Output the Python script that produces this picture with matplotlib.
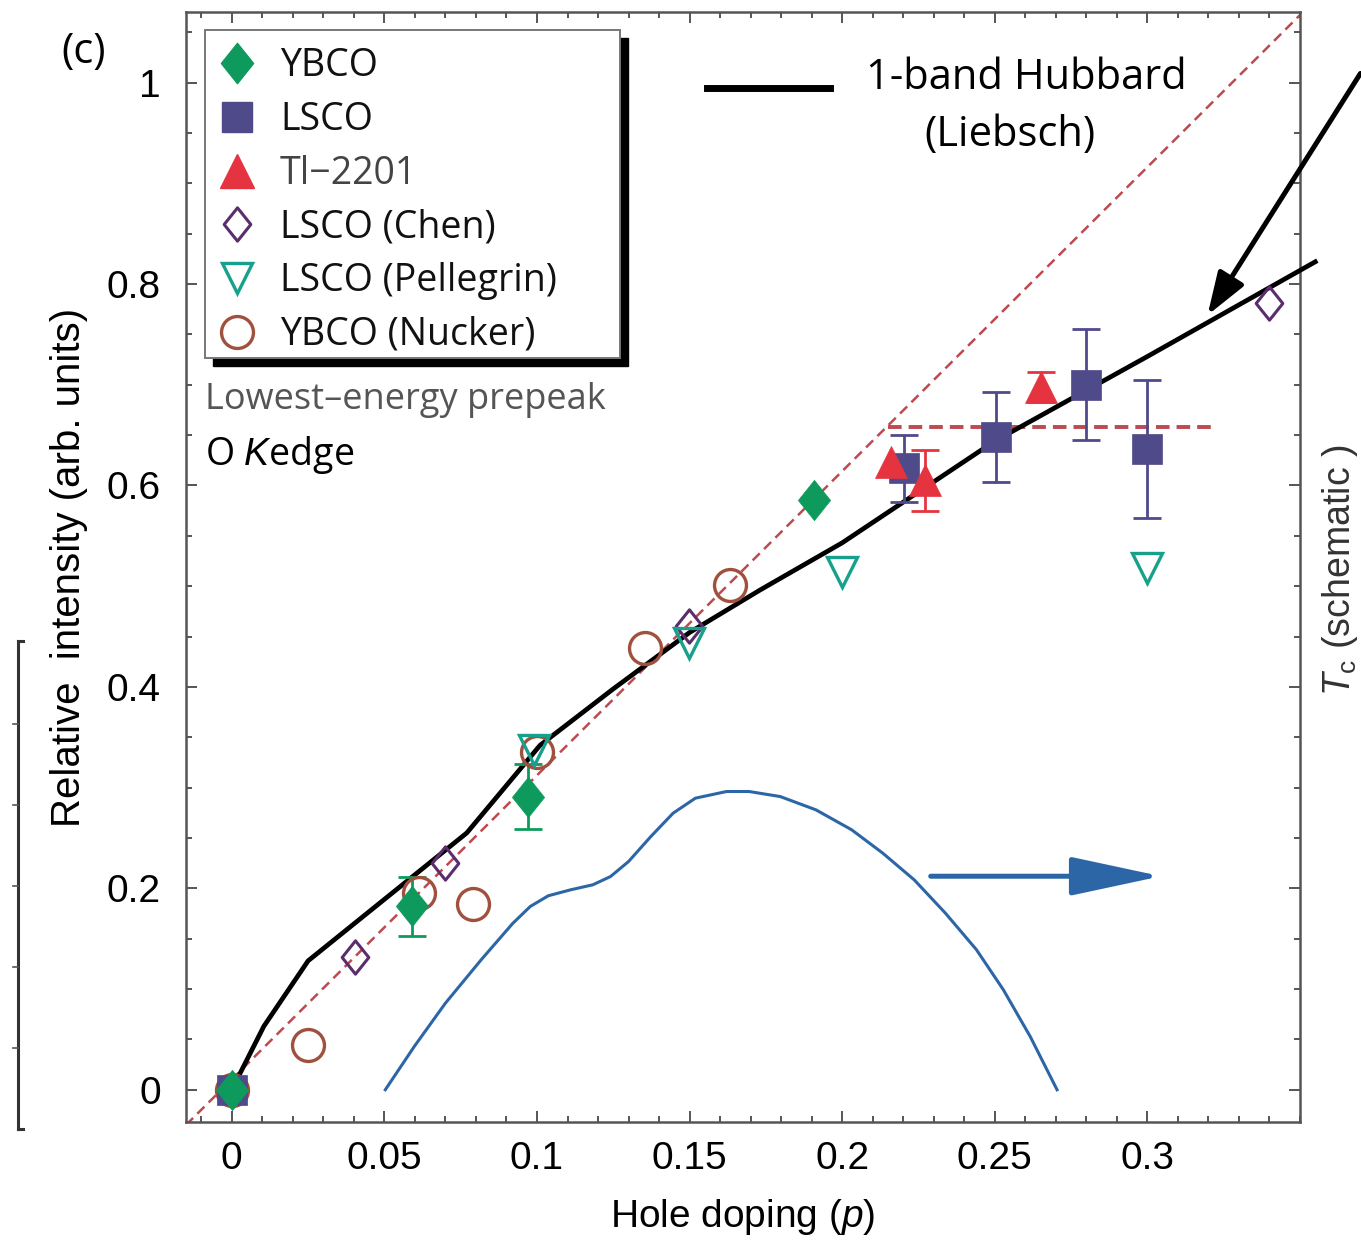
import matplotlib
matplotlib.use('Agg')
import matplotlib.pyplot as plt
import numpy as np
from matplotlib.lines import Line2D
from matplotlib.patches import Rectangle
from matplotlib.path import Path
from matplotlib.ticker import MultipleLocator

plt.rcParams['font.family'] = ['Liberation Sans', 'DejaVu Sans']
plt.rcParams['mathtext.fontset'] = 'custom'
plt.rcParams['mathtext.rm'] = 'Liberation Sans'
plt.rcParams['mathtext.it'] = 'Liberation Sans:italic'

# ---------------- data ----------------
ybco_p = [0.0, 0.059, 0.097, 0.1906]
ybco_v = [0.0, 0.182, 0.291, 0.586]
ybco_err = [0.0, 0.029, 0.032, 0.0]

lsco_p = [0.0, 0.2204, 0.2503, 0.28, 0.30]
lsco_v = [0.0, 0.617, 0.648, 0.700, 0.636]
lsco_err = [0.0, 0.033, 0.045, 0.055, 0.0685]

tl_p = [0.216, 0.227, 0.265]
tl_v = [0.623, 0.605, 0.698]
tl_err = [0.0, 0.030, 0.015]

chen_p = [0.0, 0.0403, 0.070, 0.1497, 0.34]
chen_v = [0.0, 0.132, 0.225, 0.460, 0.781]

pell_p = [0.099, 0.1497, 0.1998, 0.30]
pell_v = [0.337, 0.444, 0.514, 0.518]

nuck_p = [0.0, 0.0251, 0.0613, 0.0789, 0.1, 0.1353, 0.1634]
nuck_v = [0.0, 0.0447, 0.1955, 0.1846, 0.335, 0.4387, 0.501]

hub_p = [0.0, 0.0105, 0.025, 0.077, 0.101, 0.125, 0.15, 0.173, 0.2, 0.25, 0.3, 0.355]
hub_v = [0.0, 0.063, 0.128, 0.255, 0.342, 0.398, 0.454, 0.496, 0.543, 0.644, 0.728, 0.822]

diag_p = [-0.015, 0.35]
diag_v = [-0.035, 1.067]
flat_p = [0.2149, 0.3208]
flat_v = [0.6584, 0.6584]

tc_p = [0.0503, 0.0598, 0.0700, 0.0817, 0.0920, 0.0978, 0.1037, 0.1110, 0.1183, 0.1241,
        0.1300, 0.1373, 0.1446, 0.1519, 0.1621, 0.1695, 0.1797, 0.1914, 0.2031, 0.2133,
        0.2236, 0.2338, 0.2440, 0.2528, 0.2616, 0.2704]
tc_v = [0.0, 0.043, 0.086, 0.129, 0.165, 0.182, 0.1926, 0.1985, 0.2035, 0.2117,
        0.2266, 0.2514, 0.2746, 0.2895, 0.2961, 0.2961, 0.2911, 0.2779, 0.2581, 0.2349,
        0.2084, 0.1754, 0.139, 0.0993, 0.0529, 0.0]

xticks = [0, 0.05, 0.1, 0.15, 0.2, 0.25, 0.3]
xticklabels = ['0', '0.05', '0.1', '0.15', '0.2', '0.25', '0.3']
yticks = [0, 0.2, 0.4, 0.6, 0.8, 1.0]
yticklabels = ['0', '0.2', '0.4', '0.6', '0.8', '1']

# ---------------- colours ----------------
c_ybco = '#0e9a5c'
c_lsco = '#4f4a8a'
c_tl = '#e5343f'
c_chen = '#5a2d6c'
c_pell = '#17a08b'
c_nuck = '#a0503c'
c_red = '#bd4a50'
c_blue = '#2c66a6'

W, H = 1361, 1253
fig = plt.figure(figsize=(W / 100, H / 100), dpi=100)
ax = fig.add_axes([186 / W, 1 - 1122 / H, (1300 - 186) / W, (1122 - 12) / H])
ax.set_xlim(-0.015, 0.35)
ax.set_ylim(-0.032, 1.07)

diam = Path([(0, 1), (0.8, 0), (0, -1), (-0.8, 0), (0, 1)],
            [Path.MOVETO, Path.LINETO, Path.LINETO, Path.LINETO, Path.CLOSEPOLY])

# lines
ax.plot(diag_p, diag_v, color=c_red, lw=1.8, dashes=(4, 2.4), zorder=2)
ax.plot(flat_p, flat_v, color=c_red, lw=2.8, dashes=(3.5, 1.8), zorder=2)
ax.plot(tc_p, tc_v, color=c_blue, lw=2.2, zorder=2, solid_joinstyle='round')
ax.plot(hub_p, hub_v, color='black', lw=3.4, zorder=3, solid_joinstyle='round', clip_on=False)

# markers
mk = dict(linestyle='none', zorder=5)
ax.plot(nuck_p, nuck_v, marker='o', ms=23, mfc='none', mec=c_nuck, mew=2.4, **mk)
ax.plot(chen_p, chen_v, marker=diam, ms=24, mfc='none', mec=c_chen, mew=2.2, **mk)
ax.plot(pell_p, pell_v, marker='v', ms=22, mfc='none', mec=c_pell, mew=2.4, **mk)


def ebars(p, v, e, color):
    p, v, e = np.asarray(p), np.asarray(v), np.asarray(e)
    m = e > 0
    ax.errorbar(p[m], v[m], yerr=e[m], fmt='none', ecolor=color, elinewidth=2.0,
                capsize=10, capthick=2.0, zorder=4)


ebars(lsco_p, lsco_v, lsco_err, c_lsco)
ax.plot(lsco_p, lsco_v, marker='s', ms=21, mfc=c_lsco, mec=c_lsco, mew=0.5, **mk)
ebars(tl_p, tl_v, tl_err, c_tl)
ax.plot(tl_p, tl_v, marker='^', ms=23, mfc=c_tl, mec=c_tl, mew=0.5, **mk)
ebars(ybco_p, ybco_v, ybco_err, c_ybco)
ax.plot(ybco_p, ybco_v, marker=diam, ms=29, mfc=c_ybco, mec=c_ybco, mew=0.5, **mk)

# arrows
ax.annotate('', xy=(0.3197, 0.769), xytext=(0.3698, 1.009), xycoords='data',
            annotation_clip=False,
            arrowprops=dict(arrowstyle='-|>,head_length=1.3,head_width=0.45', mutation_scale=20,
                            lw=3.6, color='black', shrinkA=0, shrinkB=0))
ax.annotate('', xy=(0.3045, 0.212), xytext=(0.229, 0.212),
            arrowprops=dict(arrowstyle='-|>,head_length=1.4,head_width=0.3', mutation_scale=40,
                            lw=3.6, color=c_blue, shrinkA=0, shrinkB=0))

# axes styling
ax.set_xticks(xticks)
ax.set_xticklabels(xticklabels)
ax.set_yticks(yticks)
ax.set_yticklabels(yticklabels)
ax.xaxis.set_minor_locator(MultipleLocator(0.01))
ax.yaxis.set_minor_locator(MultipleLocator(0.05))
ax.tick_params(which='both', direction='in', top=True, right=True, color='#555', width=1.4)
ax.tick_params(which='major', length=8, labelsize=28)
ax.tick_params(which='minor', length=4)
ax.tick_params(axis='x', pad=14)
ax.tick_params(axis='y', pad=18)
for s in ax.spines.values():
    s.set_color('#555')
    s.set_linewidth(1.8)

ax.set_xlabel('Hole doping ($p$)', fontsize=28)
ax.xaxis.set_label_coords(0.5, -0.068)
ax.set_ylabel('Relative  intensity (arb. units)', fontsize=29)
ax.yaxis.set_label_coords(-0.088, 0.5)

# legend with manual frame + shadow
x0 = (205 - 186) / 1114
x1 = (620 - 186) / 1114
yt = (1122 - 30) / 1110
yb = (1122 - 358) / 1110
ax.add_patch(Rectangle((x0 + 8 / 1114, yb - 8 / 1110), x1 - x0, yt - yb, transform=ax.transAxes,
                       facecolor='black', edgecolor='black', zorder=8, clip_on=False))
ax.add_patch(Rectangle((x0, yb), x1 - x0, yt - yb, transform=ax.transAxes,
                       facecolor='white', edgecolor='#777', lw=1.4, zorder=9, clip_on=False))

handles = [
    Line2D([], [], ls='none', marker=diam, ms=29, mfc=c_ybco, mec=c_ybco),
    Line2D([], [], ls='none', marker='s', ms=21, mfc=c_lsco, mec=c_lsco),
    Line2D([], [], ls='none', marker='^', ms=24, mfc=c_tl, mec=c_tl),
    Line2D([], [], ls='none', marker=diam, ms=24, mfc='none', mec=c_chen, mew=2.2),
    Line2D([], [], ls='none', marker='v', ms=22, mfc='none', mec=c_pell, mew=2.4),
    Line2D([], [], ls='none', marker='o', ms=23, mfc='none', mec=c_nuck, mew=2.4),
]
labels = ['YBCO', 'LSCO', 'Tl\u22122201', 'LSCO (Chen)', 'LSCO (Pellegrin)', 'YBCO (Nucker)']
leg = ax.legend(handles, labels, loc='upper left', bbox_to_anchor=(x0, yt - 4 / 1110),
                borderaxespad=0, frameon=False, handlelength=1.0, handletextpad=0.65,
                borderpad=0.35, labelspacing=0.42,
                prop={'family': 'Open Sans', 'size': 27})
leg.set_zorder(10)
for t in leg.get_texts():
    t.set_color('#111')
leg.get_texts()[2].set_color('#444')

# text annotations
fig.text(205 / W, 1 - 400 / H, 'Lowest\u2013energy prepeak', fontsize=26, family='Open Sans',
         color='#555', ha='left', va='center')
fig.text(205 / W, 1 - 455 / H, 'O $K$edge', fontsize=27, family='Open Sans',
         color='black', ha='left', va='center')
fig.text(1026 / W, 1 - 78 / H, '1-band Hubbard', fontsize=30, family='Open Sans',
         color='black', ha='center', va='center')
fig.text(1010 / W, 1 - 135 / H, '(Liebsch)', fontsize=30, family='Open Sans',
         color='black', ha='center', va='center')
fig.add_artist(Line2D([707 / W, 830 / W], [1 - 88 / H, 1 - 88 / H], color='black', lw=5,
                      transform=fig.transFigure))
fig.text(84 / W, 1 - 52 / H, '(c)', fontsize=30, family='Open Sans', color='black',
         ha='center', va='center')
fig.text(1340 / W, 1 - 570 / H, r'$T_{\rm c}$ (schematic )', fontsize=27, rotation=90,
         color='#333', ha='center', va='center')

# left bracket decoration
fig.add_artist(Line2D([18 / W, 18 / W], [1 - 641 / H, 1 - 1129 / H], color='#333', lw=2.2,
                      transform=fig.transFigure))
fig.add_artist(Line2D([18 / W, 23 / W], [1 - 641 / H, 1 - 641 / H], color='#333', lw=2.2,
                      transform=fig.transFigure))
fig.add_artist(Line2D([18 / W, 23 / W], [1 - 1129 / H, 1 - 1129 / H], color='#333', lw=2.2,
                      transform=fig.transFigure))
for yy in [724, 805, 886, 967, 1048]:
    fig.add_artist(Line2D([13 / W, 18 / W], [1 - yy / H, 1 - yy / H], color='#555', lw=1.2,
                          transform=fig.transFigure))

fig.savefig('out.png', dpi=100)
